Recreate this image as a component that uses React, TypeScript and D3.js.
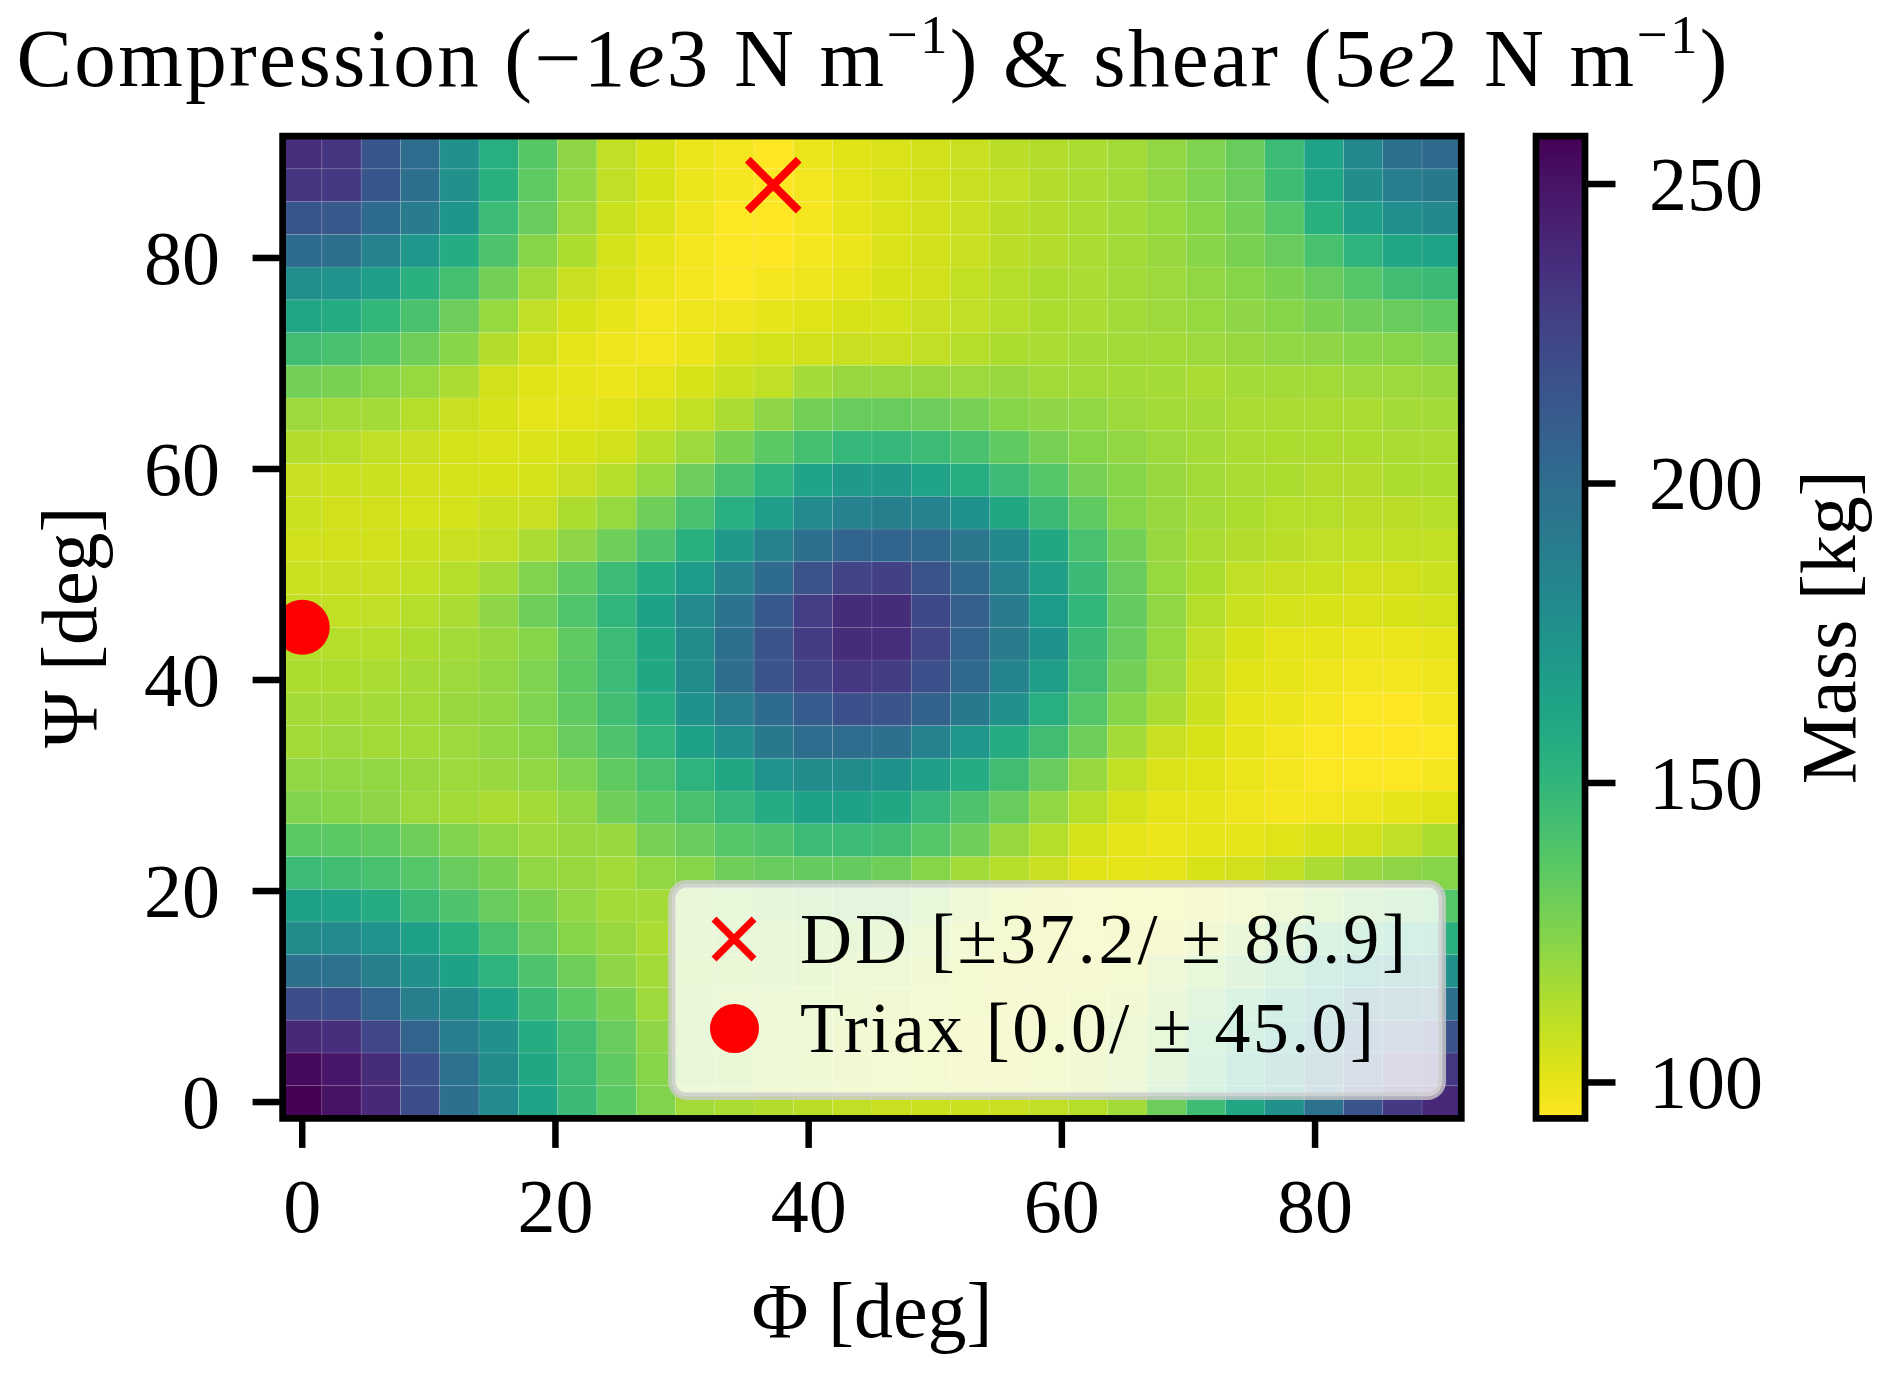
import * as d3 from "d3";

// Grid angles (deg), 30 steps from 0 to 90
const phiDeg = [
  0, 3.1, 6.21, 9.31, 12.41, 15.52, 18.62, 21.72, 24.83, 27.93, 31.03, 34.14, 37.24, 40.34, 43.45,
  46.55, 49.66, 52.76, 55.86, 58.97, 62.07, 65.17, 68.28, 71.38, 74.48, 77.59, 80.69, 83.79, 86.9, 90,
];
const psiDeg = phiDeg.slice();

// Mass [kg]; one row per Psi value (row 0 = Psi 0), columns follow phiDeg
const massKg = [
  [258, 250, 240, 220, 198, 180, 163, 147, 136, 125, 117, 115, 113, 111, 110, 108, 107, 107, 108, 110, 112, 117, 131, 145, 160, 176, 196, 216, 230, 240],
  [254, 248, 238, 218, 197, 179, 160, 146, 134, 124, 121, 118, 116, 114, 112, 109, 108, 106, 106, 107, 112, 117, 127, 142, 158, 174, 196, 211, 226, 232],
  [240, 236, 224, 206, 189, 176, 157, 144, 132, 122, 121, 117, 116, 115, 112, 110, 108, 106, 106, 107, 110, 116, 124, 137, 150, 166, 186, 201, 213, 216],
  [220, 218, 206, 188, 179, 163, 147, 136, 127, 118, 119, 117, 117, 116, 114, 112, 109, 107, 105, 106, 108, 112, 120, 130, 141, 154, 171, 188, 196, 198],
  [198, 197, 188, 176, 165, 152, 140, 130, 122, 117, 118, 118, 119, 118, 117, 115, 112, 108, 105, 105, 105, 108, 115, 123, 131, 143, 157, 170, 175, 176],
  [179, 180, 174, 165, 154, 142, 132, 124, 119, 115, 120, 121, 121, 121, 121, 120, 116, 110, 107, 104, 103, 104, 106, 113, 120, 129, 140, 146, 152, 154],
  [165, 163, 157, 147, 140, 132, 127, 121, 117, 116, 121, 124, 126, 127, 128, 128, 124, 115, 108, 105, 103, 101, 102, 106, 110, 117, 124, 130, 134, 138],
  [146, 144, 142, 138, 132, 127, 121, 119, 117, 121, 124, 130, 132, 133, 133, 130, 124, 117, 112, 108, 102, 101, 101, 104, 106, 109, 115, 119, 122, 124],
  [136, 136, 134, 130, 125, 121, 118, 119, 119, 128, 132, 138, 140, 146, 146, 144, 138, 130, 119, 112, 105, 101, 99, 100, 100, 102, 104, 106, 110, 114],
  [125, 124, 122, 118, 117, 115, 116, 121, 130, 136, 142, 149, 157, 164, 164, 160, 149, 140, 132, 121, 112, 105, 101, 100, 98, 96, 97, 98, 100, 102],
  [121, 121, 121, 119, 118, 119, 121, 126, 134, 142, 152, 160, 174, 179, 179, 175, 167, 157, 144, 132, 119, 109, 103, 102, 99, 96, 95, 95, 95, 96],
  [117, 118, 117, 117, 118, 121, 124, 132, 140, 151, 165, 177, 192, 200, 200, 198, 186, 171, 157, 144, 130, 116, 108, 104, 100, 97, 95, 94, 94, 95],
  [116, 116, 116, 117, 119, 121, 126, 134, 144, 156, 175, 189, 201, 211, 218, 215, 207, 192, 176, 155, 138, 124, 115, 107, 101, 99, 96, 95, 94, 96],
  [114, 114, 115, 116, 118, 121, 126, 136, 146, 160, 179, 199, 217, 225, 232, 229, 218, 203, 184, 166, 144, 129, 118, 108, 102, 100, 98, 97, 97, 98],
  [112, 112, 112, 114, 117, 119, 124, 134, 146, 160, 179, 198, 215, 229, 238, 237, 224, 206, 190, 175, 147, 132, 120, 110, 104, 101, 100, 99, 99, 100],
  [109, 109, 110, 112, 115, 122, 130, 139, 151, 164, 180, 195, 212, 228, 238, 238, 222, 209, 190, 168, 150, 133, 121, 112, 107, 105, 104, 103, 104, 105],
  [107, 108, 108, 109, 112, 117, 125, 134, 146, 157, 168, 186, 201, 217, 225, 226, 216, 203, 186, 166, 147, 132, 120, 114, 110, 108, 107, 106, 106, 107],
  [106, 106, 106, 107, 108, 110, 115, 122, 130, 140, 154, 169, 185, 198, 205, 205, 203, 193, 181, 160, 142, 129, 119, 115, 113, 111, 110, 109, 109, 109],
  [107, 106, 106, 105, 105, 107, 108, 114, 120, 130, 142, 155, 167, 180, 185, 188, 185, 175, 160, 147, 134, 124, 119, 116, 114, 112, 112, 111, 111, 112],
  [108, 107, 107, 106, 105, 104, 105, 108, 112, 120, 131, 142, 152, 163, 170, 169, 163, 156, 146, 138, 128, 124, 119, 117, 115, 114, 113, 113, 114, 114],
  [113, 112, 110, 108, 105, 103, 103, 104, 106, 112, 118, 127, 136, 143, 149, 149, 146, 142, 134, 128, 124, 121, 118, 116, 115, 114, 114, 114, 115, 115],
  [118, 117, 116, 112, 108, 104, 101, 101, 102, 105, 109, 115, 122, 129, 132, 132, 131, 128, 124, 122, 121, 118, 117, 116, 115, 115, 115, 115, 116, 116],
  [129, 127, 124, 120, 115, 106, 102, 100, 99, 101, 104, 107, 110, 116, 119, 119, 119, 118, 119, 117, 117, 116, 116, 115, 116, 117, 117, 118, 118, 119],
  [144, 142, 137, 130, 123, 113, 106, 101, 98, 97, 99, 103, 105, 106, 108, 108, 110, 112, 114, 115, 116, 117, 117, 118, 119, 121, 122, 123, 124, 126],
  [161, 158, 150, 141, 131, 120, 110, 104, 100, 97, 98, 98, 100, 102, 104, 105, 108, 110, 112, 114, 115, 117, 118, 120, 122, 124, 127, 130, 132, 134],
  [177, 174, 166, 154, 143, 129, 117, 108, 103, 99, 96, 95, 96, 98, 100, 104, 106, 109, 112, 114, 115, 117, 118, 121, 124, 127, 132, 138, 144, 147],
  [201, 198, 186, 171, 157, 140, 124, 114, 105, 100, 97, 95, 94, 96, 99, 103, 106, 108, 111, 113, 115, 117, 119, 123, 127, 132, 142, 152, 161, 163],
  [214, 213, 201, 190, 172, 146, 132, 118, 107, 103, 98, 95, 94, 96, 100, 103, 106, 108, 111, 113, 115, 117, 120, 124, 129, 138, 154, 166, 177, 181],
  [233, 230, 214, 198, 176, 154, 135, 121, 110, 104, 99, 96, 94, 97, 101, 103, 106, 108, 110, 113, 115, 117, 121, 126, 131, 145, 161, 178, 189, 192],
  [237, 233, 214, 200, 176, 155, 137, 122, 110, 104, 99, 97, 94, 99, 102, 103, 106, 108, 111, 113, 115, 117, 121, 126, 132, 146, 163, 182, 198, 202],
];

const axisTicks = [0, 20, 40, 60, 80];
const cbarTicks = [100, 150, 200, 250];

const ddPoint = { phi: 37.2, psi: 86.9 };
const triaxPoint = { phi: 0, psi: 45 };
const legendLabels = ["DD [±37.2/ ± 86.9]", "Triax [0.0/ ± 45.0]"];

const W = 1892;
const H = 1375;
const plot = { left: 282.6, right: 1461.3, top: 136.1, bottom: 1118.4 };
const cbar = { left: 1536, right: 1585 };
const FONT = "'Liberation Serif', 'Times New Roman', serif";

// cell edges from centre values
const edges = (v: number[]) => {
  const e = [v[0] - (v[1] - v[0]) / 2];
  for (let i = 1; i < v.length; i++) e.push((v[i - 1] + v[i]) / 2);
  e.push(v[v.length - 1] + (v[v.length - 1] - v[v.length - 2]) / 2);
  return e;
};

export default function App() {
  const phiE = edges(phiDeg);
  const psiE = edges(psiDeg);

  const x = d3.scaleLinear().domain([phiE[0], phiE[phiE.length - 1]]).range([plot.left, plot.right]);
  const y = d3.scaleLinear().domain([psiE[0], psiE[psiE.length - 1]]).range([plot.bottom, plot.top]);

  const flat = massKg.flat();
  const vmin = d3.min(flat) ?? 0;
  const vmax = d3.max(flat) ?? 1;
  // viridis reversed: low mass = yellow
  const color = d3.scaleSequential(d3.interpolateViridis).domain([vmax, vmin]);
  const cy = d3.scaleLinear().domain([vmin, vmax]).range([plot.bottom, plot.top]);

  const cells = massKg.flatMap((row, j) =>
    row.map((m, i) => ({ i, j, m }))
  );

  const gradStops = d3.range(0, 1.0001, 0.02);

  const ddX = x(ddPoint.phi);
  const ddY = y(ddPoint.psi);

  const xMark = (cx: number, cyy: number, h: number, sw: number) => (
    <path
      d={`M${cx - h},${cyy - h}L${cx + h},${cyy + h}M${cx - h},${cyy + h}L${cx + h},${cyy - h}`}
      stroke="#ff0000"
      strokeWidth={sw}
      fill="none"
    />
  );

  return (
    <svg
      width={W}
      height={H}
      viewBox={`0 0 ${W} ${H}`}
      style={{ position: "absolute", left: 0, top: 0, background: "#fff" }}
      fontFamily={FONT}
    >
      <defs>
        <clipPath id="plotClip">
          <rect x={plot.left} y={plot.top} width={plot.right - plot.left} height={plot.bottom - plot.top} />
        </clipPath>
        <linearGradient id="cbarGrad" x1="0" y1="1" x2="0" y2="0">
          {gradStops.map((t) => (
            <stop key={t} offset={t} stopColor={color(vmin + t * (vmax - vmin))} />
          ))}
        </linearGradient>
      </defs>

      {/* title */}
      <text x={(plot.left + plot.right) / 2} y={86} fontSize={83} textAnchor="middle" textLength={1711} lengthAdjust="spacing">
        Compression (−1<tspan fontStyle="italic">e</tspan>3 N m
        <tspan dy={-33} fontSize={55}>−1</tspan>
        <tspan dy={33}>) &amp; shear (5</tspan>
        <tspan fontStyle="italic">e</tspan>2 N m
        <tspan dy={-33} fontSize={55}>−1</tspan>
        <tspan dy={33}>)</tspan>
      </text>

      {/* heatmap */}
      <g>
        {cells.map(({ i, j, m }) => (
          <rect
            key={`${i}-${j}`}
            x={x(phiE[i])}
            y={y(psiE[j + 1])}
            width={x(phiE[i + 1]) - x(phiE[i])}
            height={y(psiE[j]) - y(psiE[j + 1])}
            fill={color(m)}
            stroke="rgba(255,255,255,0.13)"
            strokeWidth={0.8}
          />
        ))}
      </g>

      {/* markers */}
      <g clipPath="url(#plotClip)">
        {xMark(ddX, ddY, 25.5, 8)}
        <circle cx={x(triaxPoint.phi)} cy={y(triaxPoint.psi)} r={27.5} fill="#ff0000" />
      </g>

      {/* legend */}
      <g>
        <rect x={671.8} y={883.8} width={770.5} height={212.5} rx={15} fill="#ffffff" fillOpacity={0.8} stroke="#cccccc" strokeOpacity={0.8} strokeWidth={7.5} />
        {xMark(734, 939, 20, 7)}
        <circle cx={734.5} cy={1028.5} r={24.5} fill="#ff0000" />
        <text x={800} y={963} fontSize={72} textLength={606} lengthAdjust="spacing">{legendLabels[0]}</text>
        <text x={800} y={1052} fontSize={72} textLength={574} lengthAdjust="spacing">{legendLabels[1]}</text>
      </g>

      {/* frame */}
      <rect x={plot.left} y={plot.top} width={plot.right - plot.left} height={plot.bottom - plot.top} fill="none" stroke="#000" strokeWidth={6.7} />

      {/* x axis */}
      <g>
        {axisTicks.map((t) => (
          <g key={t}>
            <line x1={x(t)} x2={x(t)} y1={plot.bottom} y2={plot.bottom + 29.5} stroke="#000" strokeWidth={6.5} />
            <text x={x(t)} y={1232} fontSize={76} textAnchor="middle">{t}</text>
          </g>
        ))}
        <text x={(plot.left + plot.right) / 2} y={1337} fontSize={78} textAnchor="middle">Φ [deg]</text>
      </g>

      {/* y axis */}
      <g>
        {axisTicks.map((t) => (
          <g key={t}>
            <line x1={plot.left - 30} x2={plot.left} y1={y(t)} y2={y(t)} stroke="#000" strokeWidth={6.5} />
            <text x={220} y={y(t) + 26} fontSize={76} textAnchor="end">{t}</text>
          </g>
        ))}
        <text transform={`translate(96,${(plot.top + plot.bottom) / 2}) rotate(-90)`} fontSize={78} textAnchor="middle">Ψ [deg]</text>
      </g>

      {/* colorbar */}
      <g>
        <rect x={cbar.left} y={plot.top} width={cbar.right - cbar.left} height={plot.bottom - plot.top} fill="url(#cbarGrad)" stroke="#000" strokeWidth={6.7} />
        {cbarTicks.map((t) => (
          <g key={t}>
            <line x1={cbar.right} x2={cbar.right + 30.5} y1={cy(t)} y2={cy(t)} stroke="#000" strokeWidth={6.5} />
            <text x={1649} y={cy(t) + 26} fontSize={76}>{t}</text>
          </g>
        ))}
        <text transform={`translate(1855,${(plot.top + plot.bottom) / 2}) rotate(-90)`} fontSize={78} textAnchor="middle">Mass [kg]</text>
      </g>
    </svg>
  );
}
